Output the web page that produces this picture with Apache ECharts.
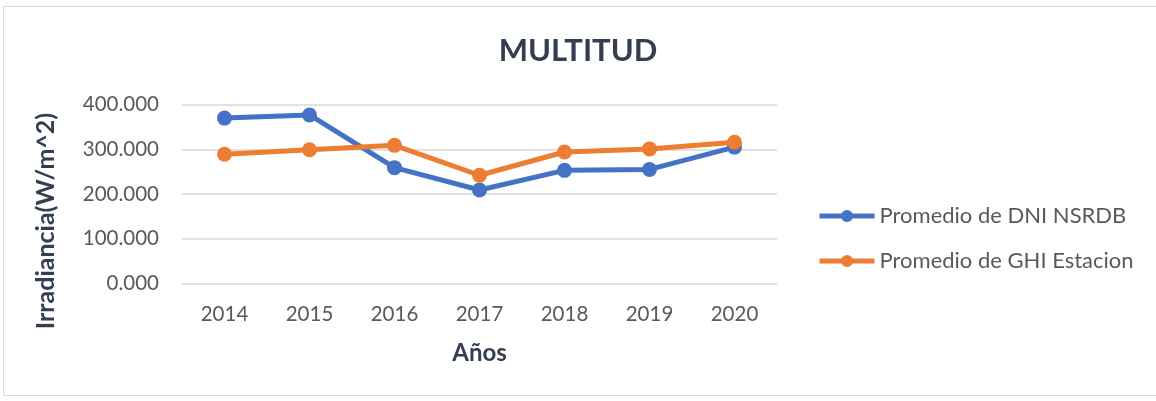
<!DOCTYPE html>
<html>
<head>
<meta charset="utf-8">
<script src="https://cdn.jsdelivr.net/npm/echarts@6/dist/echarts.min.js"></script>
<style>
    html, body { margin: 0; padding: 0; background: #fff; }
    #main { width: 1156px; height: 401px; }
</style>
</head>
<body>
<div id="main"></div>
<script>
// datos
var years = ['2014', '2015', '2016', '2017', '2018', '2019', '2020'];
var dniNsrdb = [370, 377, 259, 209, 253, 255, 305];
var ghiEstacion = [289, 299, 309, 242, 294, 301, 316];
var seriesNames = ['Promedio de DNI NSRDB', 'Promedio de GHI Estacion'];

var fontName = 'Lato, "Open Sans", sans-serif';

var chart = echarts.init(document.getElementById('main'));
var option = {
    animation: false,
    backgroundColor: '#fff',
    title: {
        text: 'MULTITUD',
        left: 'center',
        top: 30,
        textStyle: {
            fontFamily: fontName,
            fontSize: 31,
            fontWeight: 'bold',
            color: '#333F50'
        }
    },
    graphic: [
        {
            type: 'rect',
            shape: { x: 3.5, y: 6.5, width: 1160, height: 389 },
            style: { fill: 'none', stroke: '#D9D9D9', lineWidth: 1 },
            silent: true
        }
    ],
    legend: {
        orient: 'vertical',
        left: 817,
        top: 204,
        padding: 0,
        itemWidth: 55,
        itemHeight: 15,
        itemGap: 21,
        lineStyle: { width: 5 },
        textStyle: {
            fontFamily: fontName,
            fontSize: 22,
            lineHeight: 24,
            color: '#595959'
        },
        data: seriesNames
    },
    grid: {
        left: 182,
        right: 379,
        top: 104.7,
        bottom: 117.7
    },
    xAxis: {
        type: 'category',
        data: years,
        name: 'Años',
        nameLocation: 'middle',
        nameGap: 58,
        nameTextStyle: {
            fontFamily: fontName,
            fontSize: 24,
            fontWeight: 'bold',
            color: '#333F50'
        },
        axisLine: { show: false },
        axisTick: { show: false },
        axisLabel: {
            margin: 21,
            fontFamily: fontName,
            fontSize: 20.5,
            color: '#595959'
        }
    },
    yAxis: {
        type: 'value',
        min: 0,
        max: 400,
        interval: 100,
        name: 'Irradiancia(W/m^2)',
        nameLocation: 'middle',
        nameGap: 124,
        nameTextStyle: {
            fontFamily: fontName,
            fontSize: 25,
            fontWeight: 'bold',
            color: '#333F50',
            padding: [0, 54, 0, 0]
        },
        axisLine: { show: false },
        axisTick: { show: false },
        axisLabel: {
            margin: 23,
            fontFamily: fontName,
            fontSize: 20.5,
            color: '#595959',
            formatter: function (v) { return v.toFixed(3); }
        },
        splitLine: {
            lineStyle: { color: '#D9D9D9', width: 1.5 }
        }
    },
    series: [
        {
            name: seriesNames[0],
            type: 'line',
            data: dniNsrdb,
            symbol: 'circle',
            symbolSize: 15,
            lineStyle: { width: 5, color: '#4472C4' },
            itemStyle: { color: '#4472C4' }
        },
        {
            name: seriesNames[1],
            type: 'line',
            data: ghiEstacion,
            symbol: 'circle',
            symbolSize: 15,
            lineStyle: { width: 5, color: '#ED7D31' },
            itemStyle: { color: '#ED7D31' }
        }
    ]
};
chart.setOption(option);
</script>
</body>
</html>
